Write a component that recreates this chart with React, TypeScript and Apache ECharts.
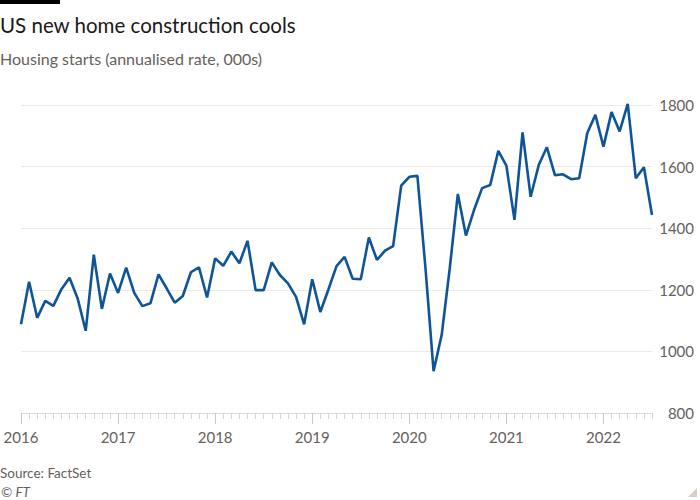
import React, { useEffect, useRef } from "react";
import * as echarts from "echarts";

const years = ["2016", "2017", "2018", "2019", "2020", "2021", "2022"];

const starts2016 = [1088, 1226, 1109, 1164, 1148, 1202, 1239, 1172, 1067, 1314, 1138, 1253];
const starts2017 = [1190, 1272, 1190, 1147, 1156, 1250, 1205, 1158, 1180, 1257, 1273, 1175];
const starts2018 = [1302, 1278, 1324, 1286, 1359, 1199, 1199, 1289, 1248, 1221, 1177, 1088];
const starts2019 = [1234, 1128, 1201, 1277, 1307, 1236, 1234, 1370, 1297, 1327, 1342, 1538];
const starts2020 = [1567, 1570, 1270, 936, 1053, 1270, 1511, 1376, 1459, 1530, 1540, 1651];
const starts2021 = [1603, 1427, 1711, 1502, 1605, 1663, 1572, 1575, 1559, 1562, 1709, 1768];
const starts2022 = [1665, 1777, 1714, 1804, 1562, 1598, 1443];

const housingStarts = [
  ...starts2016,
  ...starts2017,
  ...starts2018,
  ...starts2019,
  ...starts2020,
  ...starts2021,
  ...starts2022,
];

const months = housingStarts.map(
  (_, i) => `${years[Math.floor(i / 12)]}-${String((i % 12) + 1).padStart(2, "0")}`
);

const yMin = 800;
const yMax = 1800;
const yStep = 200;

const title = "US new home construction cools";
const subtitle = "Housing starts (annualised rate, 000s)";
const source = "Source: FactSet";
const credit = "© FT";

const FONT = "Lato, 'Noto Sans', sans-serif";

export default function App() {
  const ref = useRef<HTMLDivElement>(null);

  useEffect(() => {
    document.body.style.margin = "0";
    const chart = echarts.init(ref.current!, null, { renderer: "svg" });
    const isJan = (i: number) => i % 12 === 0;
    chart.setOption({
      animation: false,
      backgroundColor: "#ffffff",
      grid: { left: 21, right: 48, top: 105, bottom: 87 },
      xAxis: [
        {
          type: "category",
          data: months,
          boundaryGap: false,
          position: "bottom",
          axisLine: { show: true, lineStyle: { color: "#e3dbd3", width: 1 } },
          axisTick: { show: true, interval: 0, length: 6, lineStyle: { color: "#ddd4cb" } },
          axisLabel: { show: false },
          splitLine: { show: false },
        },
        {
          type: "category",
          data: months,
          boundaryGap: false,
          position: "bottom",
          axisLine: { show: false },
          axisTick: {
            show: true,
            interval: (i: number) => isJan(i),
            length: 11,
            lineStyle: { color: "#cfc5bb" },
          },
          axisLabel: {
            interval: (i: number) => isJan(i),
            formatter: (v: string) => v.slice(0, 4),
            color: "#66605c",
            fontSize: 15,
            fontFamily: FONT,
            margin: 16,
          },
          splitLine: { show: false },
        },
      ],
      yAxis: {
        type: "value",
        position: "right",
        min: yMin,
        max: yMax,
        interval: yStep,
        axisLine: { show: false },
        axisTick: { show: false },
        axisLabel: {
          formatter: (v: number) => String(v),
          color: "#66605c",
          fontSize: 15,
          fontFamily: FONT,
          align: "right",
          margin: 42,
        },
        splitLine: { show: true, lineStyle: { color: "#efe9e3", width: 1 } },
      },
      series: [
        {
          type: "line",
          data: housingStarts,
          xAxisIndex: 0,
          showSymbol: false,
          clip: false,
          lineStyle: { color: "#0f5499", width: 2.6 },
          itemStyle: { color: "#0f5499" },
        },
      ],
      graphic: [
        { type: "rect", shape: { x: 0, y: 0, width: 60, height: 4 }, style: { fill: "#000000" } },
        {
          type: "text",
          x: 0,
          y: 25,
          style: { text: title, fontSize: 20.5, fontFamily: FONT, fill: "#1a1817", verticalAlign: "middle" },
        },
        {
          type: "text",
          x: 0,
          y: 58,
          style: { text: subtitle, fontSize: 16, fontFamily: FONT, fill: "#66605c", verticalAlign: "middle" },
        },
        {
          type: "text",
          x: 0,
          y: 473,
          style: { text: source, fontSize: 13.5, fontFamily: FONT, fill: "#66605c", verticalAlign: "middle" },
        },
        {
          type: "text",
          x: 1,
          y: 492,
          style: {
            text: credit,
            fontSize: 13.5,
            fontStyle: "italic",
            fontFamily: FONT,
            fill: "#66605c",
            verticalAlign: "middle",
          },
        },
        {
          type: "polygon",
          shape: { points: [[688, 497], [697, 488], [697, 497]] },
          style: { fill: "#d8d0c8" },
        },
      ],
    });
    return () => chart.dispose();
  }, []);

  return <div ref={ref} style={{ width: 700, height: 500 }} />;
}
